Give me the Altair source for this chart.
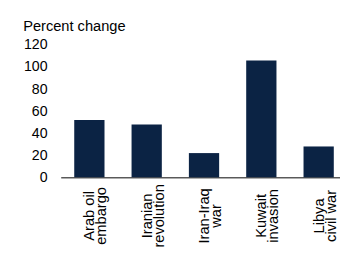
import altair as alt
import pandas as pd

categories = ["Arab oil\nembargo", "Iranian\nrevolution", "Iran-Iraq\nwar", "Kuwait\ninvasion", "Libya\ncivil war"]
values = [52, 48, 22, 106, 28]
y_ticks = [0, 20, 40, 60, 80, 100, 120]

df = pd.DataFrame({"event": categories, "change": values})

FONT = "Liberation Sans"

chart = alt.Chart(df).mark_bar(color="#0b2344").encode(
    x=alt.X(
        "event:N",
        sort=categories,
        scale=alt.Scale(paddingInner=0.472, paddingOuter=0.172, align=0.685),
        axis=alt.Axis(
            title=None,
            labelAngle=270,
            labelAlign="center",
            labelBaseline="middle",
            labelPadding=39,
            labelExpr="split(datum.label, '\\n')",
            labelLineHeight=12.5,
            labelFontSize=15,
            labelFont=FONT,
            labelColor="black",
            ticks=False,
            tickSize=0,
            domainColor="black",
            domainWidth=1,
            grid=False,
        ),
    ),
    y=alt.Y(
        "change:Q",
        scale=alt.Scale(domain=[0, 120], nice=False),
        axis=alt.Axis(
            title="Percent change",
            titleAngle=0,
            titleAlign="left",
            titleBaseline="middle",
            titleX=-39,
            titleY=-20,
            titleFont=FONT,
            titleFontSize=15,
            titleFontWeight="normal",
            titleColor="black",
            values=y_ticks,
            labelFont=FONT,
            labelFontSize=14.5,
            labelColor="black",
            labelPadding=14,
            ticks=False,
            tickSize=0,
            domain=False,
            grid=False,
        ),
    ),
).properties(
    width=286,
    height=135.5,
    padding={"left": 54, "top": 35, "right": 0, "bottom": 72},
    autosize=alt.AutoSizeParams(type="none"),
).configure_view(stroke=None)

chart.save("out.html", embed_options={"renderer": "svg", "actions": False})
